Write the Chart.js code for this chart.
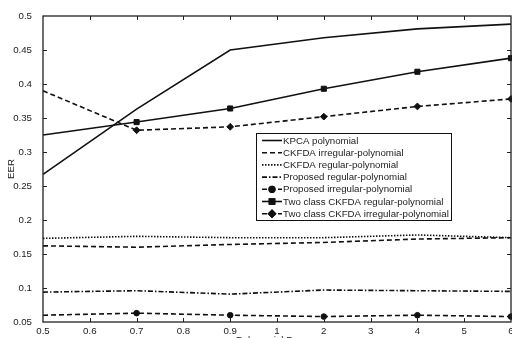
<!DOCTYPE html>
<html>
<head>
<meta charset="utf-8">
<script src="https://cdn.jsdelivr.net/npm/chart.js@4"></script>
<style>
  html, body { margin: 0; padding: 0; background: #fff; }
  #wrap { width: 512px; height: 338px; }
</style>
</head>
<body>
<div id="wrap"><canvas id="eerChart" width="512" height="338"></canvas></div>
<script>
// polynomial degrees on the x axis (equally spaced categories)
const degrees = ['0.5', '0.6', '0.7', '0.8', '0.9', '1', '2', '3', '4', '5', '6'];
const yTicks = [0.05, 0.1, 0.15, 0.2, 0.25, 0.3, 0.35, 0.4, 0.45, 0.5];

// EER values, null where no measurement was taken
const kpcaPoly        = [0.267, null, 0.363, null, 0.450, null, 0.468, null, 0.481, null, 0.488];
const ckfdaIrregular  = [0.162, null, 0.160, null, 0.164, null, 0.167, null, 0.172, null, 0.174];
const ckfdaRegular    = [0.173, null, 0.176, null, 0.174, null, 0.174, null, 0.178, null, 0.174];
const propRegular     = [0.094, null, 0.096, null, 0.091, null, 0.097, null, 0.096, null, 0.095];
const propIrregular   = [0.060, null, 0.063, null, 0.060, null, 0.058, null, 0.060, null, 0.058];
const twoClassRegular = [0.325, null, 0.344, null, 0.364, null, 0.393, null, 0.418, null, 0.438];
const twoClassIrreg   = [0.390, null, 0.332, null, 0.337, null, 0.352, null, 0.367, null, 0.378];

const ink = '#111';
const FONT = { family: 'Liberation Sans, Arial, sans-serif', size: 9.7 };

function series(label, data, dash, marker, radius) {
    // no marker on the first point (left edge), like the original figure
    const r = ctx => (marker && ctx.dataIndex > 0) ? radius : 0;
    return {
        label: label,
        data: data,
        markerSize: marker ? radius : 0,
        borderColor: ink,
        backgroundColor: ink,
        borderWidth: 1.6,
        borderDash: dash,
        pointStyle: marker || 'circle',
        pointRadius: r,
        pointHoverRadius: r,
        pointBorderWidth: 1,
        pointBackgroundColor: ink,
        pointBorderColor: ink,
        tension: 0,
        spanGaps: true
    };
}

const boxTicks = {
    id: 'boxTicks',
    afterDatasetsDraw(chart) {
        const { ctx, chartArea: a, scales } = chart;
        ctx.save();
        ctx.strokeStyle = '#222';
        ctx.lineWidth = 1;
        ctx.setLineDash([]);
        ctx.beginPath();
        scales.x.ticks.forEach((t, i) => {
            if (i === 0 || i === scales.x.ticks.length - 1) return;
            const px = Math.round(scales.x.getPixelForTick(i)) + 0.5;
            ctx.moveTo(px, a.bottom); ctx.lineTo(px, a.bottom - 4);
            ctx.moveTo(px, a.top); ctx.lineTo(px, a.top + 4);
        });
        scales.y.ticks.forEach((t, i) => {
            if (i === 0 || i === scales.y.ticks.length - 1) return;
            const py = Math.round(scales.y.getPixelForTick(i)) + 0.5;
            ctx.moveTo(a.left, py); ctx.lineTo(a.left + 4, py);
            ctx.moveTo(a.right, py); ctx.lineTo(a.right - 4, py);
        });
        ctx.stroke();
        ctx.lineWidth = 1.3;
        ctx.strokeRect(a.left, a.top, a.right - a.left, a.bottom - a.top);
        ctx.restore();
    }
};

const boxLegend = {
    id: 'boxLegend',
    afterDraw(chart) {
        const ctx = chart.ctx;
        const x0 = 256, y0 = 133, w = 195, h = 87;
        ctx.save();
        ctx.fillStyle = '#fff';
        ctx.fillRect(x0, y0, w, h);
        ctx.strokeStyle = ink;
        ctx.lineWidth = 1;
        ctx.strokeRect(x0 + 0.5, y0 + 0.5, w, h);
        ctx.font = FONT.size + 'px ' + FONT.family;
        ctx.textBaseline = 'middle';
        chart.data.datasets.forEach((ds, i) => {
            const y = y0 + 7.5 + i * 12.2;
            ctx.strokeStyle = ink;
            ctx.lineWidth = 1.6;
            ctx.setLineDash(ds.borderDash || []);
            ctx.beginPath();
            ctx.moveTo(262, y);
            ctx.lineTo(282, y);
            ctx.stroke();
            ctx.setLineDash([]);
            if (ds.markerSize > 0) {
                ctx.fillStyle = ink;
                Chart.helpers.drawPoint(ctx, {
                    pointStyle: ds.pointStyle,
                    radius: ds.markerSize,
                    borderWidth: 1,
                    rotation: 0
                }, 272, y);
                ctx.fill();
                ctx.stroke();
            }
            ctx.fillStyle = '#222';
            ctx.fillText(ds.label, 283, y + 0.5);
        });
        ctx.restore();
    }
};

new Chart(document.getElementById('eerChart'), {
    type: 'line',
    data: {
        labels: degrees,
        datasets: [
            series('KPCA polynomial', kpcaPoly, [], null, 0),
            series('CKFDA irregular-polynomial', ckfdaIrregular, [5, 3], null, 0),
            series('CKFDA regular-polynomial', ckfdaRegular, [1.5, 1.5], null, 0),
            series('Proposed regular-polynomial', propRegular, [5, 2, 1.5, 2], null, 0),
            series('Proposed irregular-polynomial', propIrregular, [5, 3], 'circle', 2.8),
            series('Two class CKFDA regular-polynomial', twoClassRegular, [], 'rect', 3.6),
            series('Two class CKFDA irregular-polynomial', twoClassIrreg, [5, 3], 'rectRot', 3.4)
        ]
    },
    options: {
        responsive: false,
        animation: false,
        layout: { autoPadding: false, padding: { top: 16, right: 1, left: 0, bottom: 0 } },
        plugins: {
            legend: { display: false },
            tooltip: { enabled: false }
        },
        scales: {
            x: {
                type: 'category',
                offset: false,
                grid: { display: false, drawTicks: false, tickLength: 0 },
                border: { display: false },
                ticks: { color: '#222', font: FONT, padding: 4, maxRotation: 0, autoSkip: false },
                title: {
                    display: true,
                    text: 'Polynomial Degree',
                    color: '#222',
                    font: FONT,
                    padding: { top: 0, bottom: -8 }
                },
                afterFit(scale) {
                    scale.height = 16;
                    scale.paddingLeft = 0;
                    scale.paddingRight = 0;
                }
            },
            y: {
                min: 0.05,
                max: 0.5,
                grid: { display: false },
                border: { display: false },
                afterBuildTicks(scale) { scale.ticks = yTicks.map(v => ({ value: v })); },
                ticks: {
                    color: '#222',
                    font: FONT,
                    padding: 3,
                    callback: v => String(parseFloat(v.toFixed(2)))
                },
                title: {
                    display: true,
                    text: 'EER',
                    color: '#222',
                    font: FONT,
                    padding: { top: 6, bottom: 0 }
                },
                afterFit(scale) { scale.width = 43; }
            }
        }
    },
    plugins: [boxTicks, boxLegend]
});
</script>
</body>
</html>
